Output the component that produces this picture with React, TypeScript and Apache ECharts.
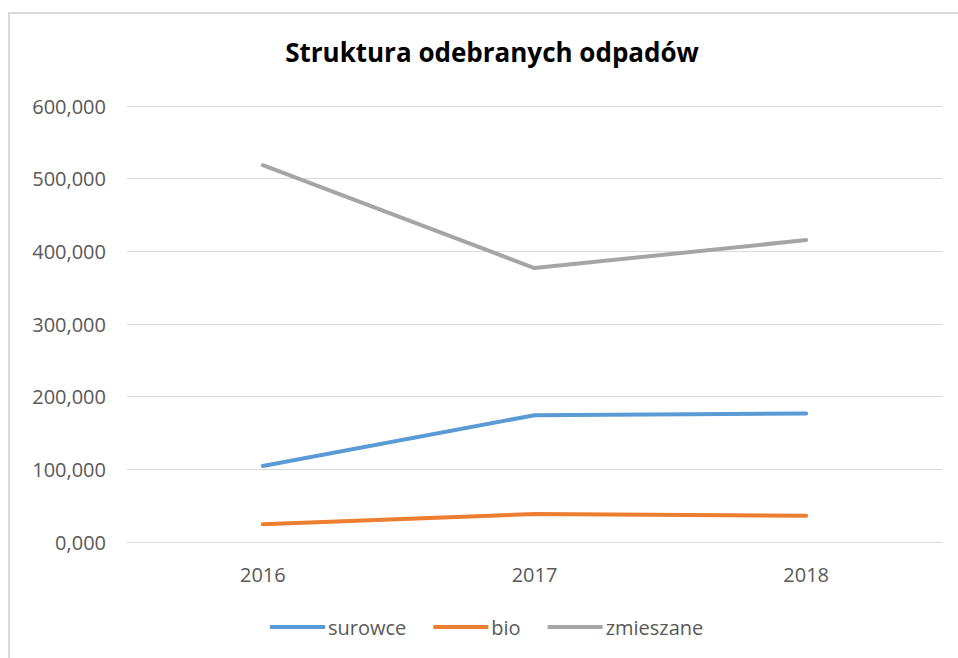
import React, { useEffect, useRef } from "react";
import * as echarts from "echarts";

const categories = ["2016", "2017", "2018"];
const surowce = [104.6, 174.5, 177.0];
const bio = [24.3, 38.5, 36.0];
const zmieszane = [518.5, 377.0, 415.5];
const seriesNames = ["surowce", "bio", "zmieszane"];
const colors = ["#5B9BD5", "#ED7D31", "#A5A5A5"];

const FONT = "'Open Sans', 'Noto Sans', sans-serif";

export default function App() {
  const ref = useRef<HTMLDivElement>(null);
  useEffect(() => {
    if (!ref.current) return;
    const chart = echarts.init(ref.current, undefined, { renderer: "svg" });
    const data = [surowce, bio, zmieszane];
    chart.setOption({
      animation: false,
      backgroundColor: "#ffffff",
      title: {
        text: "Struktura odebranych odpadów",
        left: 487,
        top: 34,
        textAlign: "center",
        textStyle: { fontFamily: FONT, fontWeight: "bold", fontSize: 26, color: "#000000" },
      },
      graphic: [
        { type: "line", shape: { x1: 8, y1: 13, x2: 958, y2: 13 }, style: { stroke: "#d9d9d9", lineWidth: 2 } },
        { type: "line", shape: { x1: 9, y1: 13, x2: 9, y2: 658 }, style: { stroke: "#d9d9d9", lineWidth: 2 } },
      ],
      grid: { left: 127, right: 16, top: 106, bottom: 116 },
      xAxis: {
        type: "category",
        data: categories,
        boundaryGap: true,
        axisLine: { lineStyle: { color: "#d9d9d9", width: 1 } },
        axisTick: { show: false },
        axisLabel: { color: "#595959", fontFamily: FONT, fontSize: 20, margin: 22 },
      },
      yAxis: {
        type: "value",
        min: 0,
        max: 600,
        interval: 100,
        axisLine: { show: false },
        axisTick: { show: false },
        splitLine: { lineStyle: { color: "#d9d9d9", width: 1 } },
        axisLabel: {
          color: "#595959",
          fontFamily: FONT,
          fontSize: 20,
          margin: 21,
          formatter: (v: number) => v.toFixed(3).replace(".", ","),
        },
      },
      legend: {
        bottom: 21,
        left: 270,
        padding: 0,
        icon: "rect",
        itemWidth: 55,
        itemHeight: 4,
        itemGap: 27,
        textStyle: { color: "#595959", fontFamily: FONT, fontSize: 20, padding: [0, 0, 0, -2] },
        data: seriesNames,
      },
      series: seriesNames.map((name, i) => ({
        name,
        type: "line",
        data: data[i],
        showSymbol: false,
        symbol: "none",
        color: colors[i],
        lineStyle: { color: colors[i], width: 4, cap: "round" },
      })),
    });
    return () => chart.dispose();
  }, []);
  return (
    <div
      ref={ref}
      style={{ position: "fixed", left: 0, top: 0, width: 958, height: 658 }}
    />
  );
}
